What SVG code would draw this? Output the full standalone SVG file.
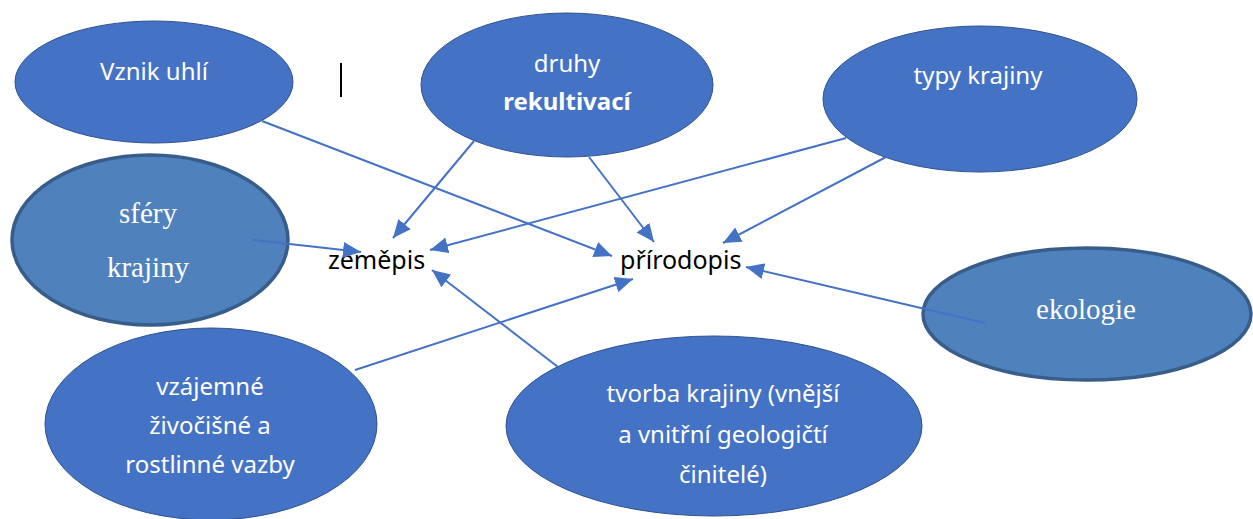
<svg xmlns="http://www.w3.org/2000/svg" width="1253" height="519" viewBox="0 0 1253 519">
<style>
.n{fill:#4472c4;stroke:#2f528f;stroke-width:1}
.s{fill:#4f81bd;stroke:#385d8a;stroke-width:3.5}
.t{fill:#fff;font-family:"Noto Sans","Open Sans",sans-serif;font-size:24px;text-anchor:middle}
.r{fill:#fff;font-family:"Liberation Serif","Times New Roman",serif;font-size:29px;text-anchor:middle}
.k{fill:#000;font-family:"Noto Sans","Open Sans",sans-serif;font-size:25px}
.c line{stroke:#4472c4;stroke-width:2;marker-end:url(#a)}
</style>
<defs>
<marker id="a" markerUnits="userSpaceOnUse" markerWidth="20" markerHeight="16" refX="18" refY="8" orient="auto">
<path d="M0,0 L18,8 L0,16 Z" fill="#4472c4"/>
</marker>
</defs>
<g id="vznik-uhli"><ellipse class="n" cx="154" cy="82" rx="139" ry="61"/><text class="t" x="154" y="80">Vznik uhlí</text></g>
<g id="druhy-rekultivaci"><ellipse class="n" cx="567" cy="85" rx="146" ry="72"/><text class="t" x="567" y="72">druhy</text><text class="t" x="567" y="110" font-weight="bold">rekultivací</text></g>
<g id="typy-krajiny"><ellipse class="n" cx="980" cy="99" rx="157" ry="73"/><text class="t" x="978" y="84">typy krajiny</text></g>
<g id="sfery-krajiny"><ellipse class="s" cx="150" cy="240" rx="138" ry="85"/><text class="r" x="148" y="223">sféry</text><text class="r" x="148" y="277">krajiny</text></g>
<g id="ekologie"><ellipse class="s" cx="1087" cy="314" rx="164" ry="66"/><text class="r" x="1086" y="319" font-size="31">ekologie</text></g>
<g id="vzajemne"><ellipse class="n" cx="211" cy="424" rx="166" ry="96"/><text class="t" x="210" y="395">vzájemné</text><text class="t" x="210" y="434">živočišné a</text><text class="t" x="210" y="473">rostlinné vazby</text></g>
<g id="tvorba-krajiny"><ellipse class="n" cx="714" cy="426" rx="208" ry="90"/><text class="t" x="723" y="402">tvorba krajiny (vnější</text><text class="t" x="723" y="443">a vnitřní geologičtí</text><text class="t" x="723" y="483">činitelé)</text></g>
<g id="zemepis"><text class="k" x="328" y="269">zeměpis</text></g>
<g id="prirodopis"><text class="k" x="620" y="269">přírodopis</text></g>
<line x1="341" y1="63" x2="341" y2="97" stroke="#000" stroke-width="2"/>
<g class="c" id="connectors">
<line x1="262" y1="121" x2="612" y2="256"/>
<line x1="474" y1="141" x2="393" y2="238"/>
<line x1="589" y1="157" x2="654" y2="242"/>
<line x1="846" y1="138" x2="430" y2="250"/>
<line x1="886" y1="157" x2="723" y2="243"/>
<line x1="253" y1="240" x2="361" y2="252"/>
<line x1="985" y1="323" x2="746" y2="267"/>
<line x1="355" y1="370" x2="633" y2="279"/>
<line x1="558" y1="367" x2="432" y2="270"/>
</g>
</svg>
